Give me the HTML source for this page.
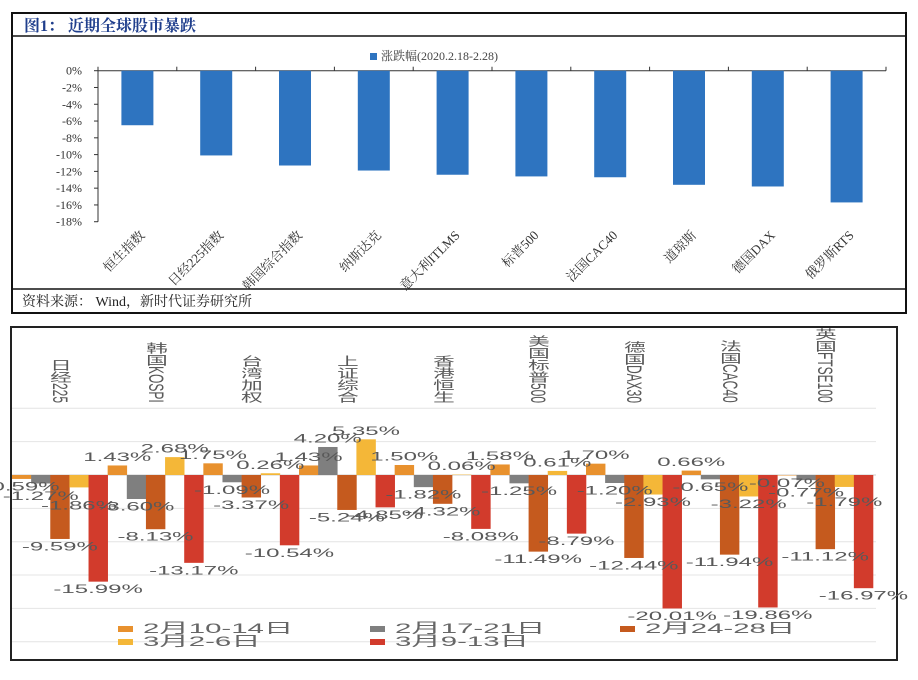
<!DOCTYPE html>
<html><head><meta charset="utf-8">
<style>
body{margin:0;background:#fff;width:918px;height:680px;overflow:hidden;font-family:"Liberation Serif","Noto Serif CJK SC",serif}
svg{position:absolute;left:0;top:0}
.vl{position:absolute;writing-mode:vertical-rl;font-family:"Liberation Sans","Noto Sans CJK SC",sans-serif;font-size:12px;color:#595959;line-height:12px;transform-origin:center bottom;}
</style></head><body>
<svg id="top" width="918" height="320" viewBox="0 0 918 320">
  <rect x="12" y="13" width="894" height="300" fill="none" stroke="#111" stroke-width="2"/>
  <text x="24" y="31" fill="#1F3E8C" font-weight="bold" font-size="16">图1：  近期全球股市暴跌</text>
  <line x1="13" x2="905" y1="36" y2="36" stroke="#111" stroke-width="1.5"/>
  <line x1="13" x2="905" y1="289" y2="289" stroke="#111" stroke-width="1.5"/>
  <text x="22" y="306" font-size="14" fill="#222">资料来源： Wind，新时代证券研究所</text>
  <rect x="370" y="53" width="7" height="7" fill="#2E74C0"/>
  <text x="381" y="60" font-size="12" fill="#444">涨跌幅(2020.2.18-2.28)</text>
  <g id="tg"></g>
</svg>
<svg id="bot" width="918" height="680" viewBox="0 0 918 680" style="pointer-events:none">
  <rect x="11" y="327" width="886" height="333" fill="none" stroke="#222" stroke-width="2"/>
  <g id="bg"></g>
</svg>
<div id="vlabels"></div>
<script>
// ---- top chart data ----
const topCats = ["恒生指数","日经225指数","韩国综合指数","纳斯达克","意大利ITLMS","标普500","法国CAC40","道琼斯","德国DAX","俄罗斯RTS"];
const topVals = [-6.5,-10.1,-11.3,-11.9,-12.4,-12.6,-12.7,-13.6,-13.8,-15.7];
const topTicks = [0,-2,-4,-6,-8,-10,-12,-14,-16,-18];
// ---- bottom chart data ----
const botCats = ["日经225","韩国KOSPI","台湾加权","上证综合","香港恒生","美国标普500","德国DAX30","法国CAC40","英国FTSE100"];
const seriesNames = ["2月10-14日","2月17-21日","2月24-28日","3月2-6日","3月9-13日"];
const s1 = [-0.59,1.43,1.75,1.43,1.50,1.58,1.70,0.66,-0.07];
const s2 = [-1.27,-3.60,-1.09,4.20,-1.82,-1.25,-1.20,-0.65,-0.77];
const s3 = [-9.59,-8.13,-3.37,-5.24,-4.32,-11.49,-12.44,-11.94,-11.12];
const s4 = [-1.86,2.68,0.26,5.35,0.06,0.61,-2.93,-3.22,-1.79];
const s5 = [-15.99,-13.17,-10.54,-4.85,-8.08,-8.79,-20.01,-19.86,-16.97];
const botGrid = [10,5,0,-5,-10,-15,-20,-25];

const NS="http://www.w3.org/2000/svg";
function mk(tag,attrs,parent){const e=document.createElementNS(NS,tag);for(const k in attrs)e.setAttribute(k,attrs[k]);parent.appendChild(e);return e;}

// top chart
const tg=document.getElementById('tg');
const tx0=98,tx1=886,ty0=70.7,tPer=8.39;
const ty=v=>ty0-v*tPer;
const tbw=(tx1-tx0)/topCats.length;
const tcx=i=>tx0+tbw*(i+0.5);
let ax=mk('line',{x1:tx0,x2:tx0,y1:ty(0),y2:ty(-18),stroke:'#333','stroke-width':1},tg);


let ax2=mk('line',{x1:tx0,x2:tx1,y1:ty(0),y2:ty(0),stroke:'#333','stroke-width':1},tg);


topTicks.forEach(t=>{
  mk('line',{x1:tx0-4,x2:tx0,y1:ty(t),y2:ty(t),stroke:'#333'},tg);
  const l=mk('text',{x:tx0-16,y:ty(t)+4,'text-anchor':'end','font-size':12,fill:'#333'},tg);
  l.textContent=t+'%';
  
  
});
for(let i=0;i<=topCats.length;i++)mk('line',{x1:tx0+tbw*i,x2:tx0+tbw*i,y1:ty(0)-4,y2:ty(0),stroke:'#333'},tg);
topVals.forEach((v,i)=>{
  const r=mk('rect',{x:tcx(i)-16,y:ty(0),width:32,height:ty(v)-ty(0),fill:'#2E74C0'},tg);
  
  
  const l=mk('text',{transform:`translate(${tcx(i)+8},236) rotate(-45)`,'text-anchor':'end','font-size':13,fill:'#333'},tg);
  l.textContent=topCats[i];
  
  
});

// bottom chart
const bg=document.getElementById('bg');
const bx0=12,bx1=873,by0=475,bPer=6.67;
const by=v=>by0-v*bPer;
const gw=(bx1-bx0)/botCats.length, bw=gw/5;
const colors=['#E8912E','#7F7F7F','#C55A1E','#F4B738','#D23B2C'];
const allS=[s1,s2,s3,s4,s5];
botGrid.forEach(g=>{
  const l=mk('line',{x1:bx0,x2:876,y1:by(g),y2:by(g),stroke:g===0?'#ccc':'#e4e4e4','stroke-width':1},bg);
  
  
});
const labs=[];
botCats.forEach((c,ci)=>{
  let prevSmall=-1e9;
  allS.forEach((s,si)=>{
    const v=s[ci];
    const x=bx0+gw*ci+bw*si;
    const r=mk('rect',{x:x,y:Math.min(by(v),by(0)),width:bw+0.3,height:Math.abs(by(v)-by(0)),fill:colors[si]},bg);
    
    
    let cy;
    if(v<0){
      cy=by(v)+11.5;
      if(v>-3){cy=Math.max(cy,prevSmall+9.5);prevSmall=cy;}
    } else cy=by(v)-4.5;
    labs.push([x+bw/2,cy,v]);
  });
});
labs.forEach(([x,y,v])=>{
  const t=mk('text',{transform:`translate(${x},${y}) scale(2.0,1)`,'text-anchor':'middle','font-size':12,fill:'#595959','font-family':'Liberation Sans, sans-serif'},bg);
  t.textContent=v.toFixed(2)+'%';
  
  
});
// legend
const legPos=[[118,632],[370,632],[620,632],[118,645],[370,645]];
seriesNames.forEach((n,i)=>{
  const [lx,lyy]=legPos[i];
  const r=mk('rect',{x:lx,y:lyy-6,width:15,height:6,fill:colors[i]},bg);
  
  
  const t=mk('text',{transform:`translate(${lx+25},${lyy+1}) scale(2.1,1)`,'font-size':14,fill:'#666','font-family':'Liberation Sans, Noto Sans CJK SC, sans-serif'},bg);
  t.textContent=n;
  
  
});
// vertical category labels
const vl=document.getElementById('vlabels');
botCats.forEach((c,i)=>{
  const d=document.createElement('div');
  d.className='vl';
  
  
  d.textContent=c;
  vl.appendChild(d);
  const cx=bx0+gw*(i+0.5);
  d.style.left=(cx-6)+'px';
  d.style.top=(403-d.offsetHeight)+'px';
  d.style.transform='scaleX(1.8)';
});
</script>
</body></html>
